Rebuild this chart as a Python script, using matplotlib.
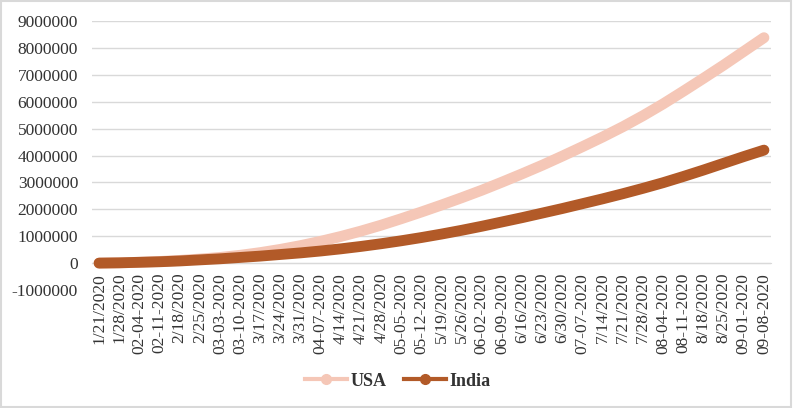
import matplotlib.pyplot as plt
from matplotlib.lines import Line2D
from matplotlib.patches import Rectangle

dates = ['1/21/2020', '1/28/2020', '02-04-2020', '02-11-2020', '2/18/2020', '2/25/2020',
         '03-03-2020', '03-10-2020', '3/17/2020', '3/24/2020', '3/31/2020', '04-07-2020',
         '4/14/2020', '4/21/2020', '4/28/2020', '05-05-2020', '05-12-2020', '5/19/2020',
         '5/26/2020', '06-02-2020', '06-09-2020', '6/16/2020', '6/23/2020', '6/30/2020',
         '07-07-2020', '7/14/2020', '7/21/2020', '7/28/2020', '08-04-2020', '08-11-2020',
         '8/18/2020', '8/25/2020', '09-01-2020', '09-08-2020']

# values in millions (weekly)
usa = [0.00, 0.01, 0.03, 0.06, 0.10, 0.15, 0.21, 0.29, 0.39, 0.51, 0.65, 0.81,
       0.99, 1.19, 1.41, 1.65, 1.90, 2.16, 2.43, 2.71, 3.01, 3.32, 3.64, 3.98,
       4.33, 4.69, 5.07, 5.48, 5.92, 6.39, 6.87, 7.36, 7.87, 8.38]
india = [0.00, 0.01, 0.03, 0.05, 0.08, 0.12, 0.16, 0.21, 0.26, 0.32, 0.38, 0.45,
         0.53, 0.62, 0.72, 0.83, 0.95, 1.08, 1.22, 1.37, 1.53, 1.69, 1.86, 2.03,
         2.21, 2.39, 2.58, 2.78, 2.99, 3.22, 3.46, 3.71, 3.96, 4.20]

yticks = list(range(-1000000, 9000001, 1000000))

usa_col = '#F5C7B7'
india_col = '#B25A28'
txt_col = '#333333'

plt.rcParams['font.family'] = ['Liberation Serif', 'DejaVu Serif']

fig = plt.figure(figsize=(7.93, 4.08), dpi=100)
ax = fig.add_axes([92/793, 1 - 290/408, (771-92)/793, (290-21)/408])

# x axis line sits at zero, labels hang below it
for s in ['top', 'right', 'left']:
    ax.spines[s].set_visible(False)
ax.spines['bottom'].set_position(('data', 0))
ax.spines['bottom'].set_color('#D9D9D9')

xs = list(range(len(dates)))
ax.plot(xs, [v * 1e6 for v in usa], color=usa_col, lw=7.8,
        solid_capstyle='round', solid_joinstyle='round', zorder=3)
ax.plot(xs, [v * 1e6 for v in india], color=india_col, lw=7.8,
        solid_capstyle='round', solid_joinstyle='round', zorder=4)

ax.set_xlim(-0.35, len(dates) - 1 + 0.35)
ax.set_ylim(-1000000, 9000000)
ax.set_yticks(yticks)
ax.set_yticklabels([str(t) for t in yticks], fontsize=12.5, color=txt_col)
ax.set_xticks(xs)
ax.set_xticklabels(dates, rotation=90, fontsize=12.5, color=txt_col)
ax.tick_params(axis='both', length=0)
ax.tick_params(axis='y', pad=10)
ax.tick_params(axis='x', pad=7, labelrotation=90)

ax.grid(axis='y', color='#D9D9D9', lw=1)
ax.set_axisbelow(True)

handles = [Line2D([], [], color=usa_col, lw=3, marker='o', markersize=7),
           Line2D([], [], color=india_col, lw=3, marker='o', markersize=7)]
fig.legend(handles, ['USA', 'India'], loc='center', bbox_to_anchor=(398/793, 1 - 381/408),
           ncol=2, frameon=False, handlelength=2.3, handletextpad=0.2, columnspacing=1.0,
           prop={'size': 13, 'weight': 'bold'}, labelcolor=txt_col)

fig.patches.append(Rectangle((0.001, 0.003), 0.997, 0.995, transform=fig.transFigure,
                             fill=False, edgecolor='#D9D9D9', lw=1.5))

fig.savefig('out.png', dpi=100)
